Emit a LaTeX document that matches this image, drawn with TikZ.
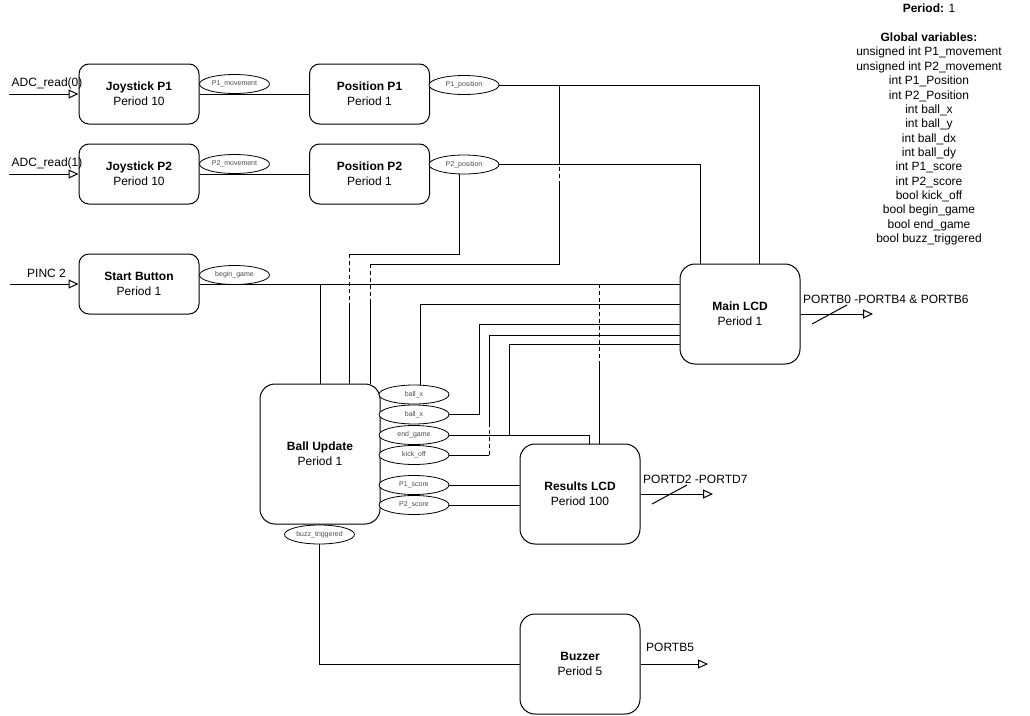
\documentclass[tikz,border=0pt]{standalone}
\usepackage{fontspec}
\setmainfont{Liberation Sans}
\usetikzlibrary{arrows.meta,shapes.geometric}
\begin{document}
\begin{tikzpicture}[x=1pt,y=-1pt,
  font=\fontsize{12}{15}\selectfont,
  task/.style={draw,line width=1pt,rounded corners=10pt,minimum width=120pt,minimum height=60pt,inner sep=0pt,align=center,fill=white},
  tall/.style={rounded corners=15pt,minimum height=100pt},
  var/.style={draw,ellipse,fill=white,line width=0.8pt,minimum width=70pt,minimum height=19pt,inner sep=0pt,font=\fontsize{7}{8}\selectfont,text=black!70},
  wire/.style={line width=1pt},
  jump/.style={line width=1pt,dash pattern=on 4pt off 3pt},
  inarr/.style={line width=1pt,-{Triangle[open,length=10pt,width=9pt,line width=1pt]}},
  lbl/.style={inner sep=0pt}
]
\useasboundingbox (0,0) rectangle (1030,715);

% task boxes
\node[task] (js1) at (139,94) {\textbf{Joystick P1}\\Period 10};
\node[task] (pos1) at (369.5,94) {\textbf{Position P1}\\Period 1};
\node[task] (js2) at (139,174) {\textbf{Joystick P2}\\Period 10};
\node[task] (pos2) at (369.5,174) {\textbf{Position P2}\\Period 1};
\node[task] (sb) at (139,284) {\textbf{Start Button}\\Period 1};
\node[task,tall] (mainlcd) at (740,314) {\textbf{Main LCD}\\Period 1};
\node[task,tall,minimum height=140pt] (ball) at (320,454) {\textbf{Ball Update}\\Period 1};
\node[task,tall] (results) at (580,494) {\textbf{Results LCD}\\Period 100};
\node[task,tall] (buzzer) at (580,664) {\textbf{Buzzer}\\Period 5};

% variable ellipses
\node[var] (e_p1mov) at (234.5,84) {P1\_movement};
\node[var] (e_p2mov) at (234.5,164) {P2\_movement};
\node[var] (e_p1pos) at (464,85) {P1\_position};
\node[var] (e_p2pos) at (464,164.5) {P2\_position};
\node[var] (e_begin) at (234.5,275) {begin\_game};
\node[var] (e_bx1) at (414,394.5) {ball\_x};
\node[var] (e_bx2) at (414,414.5) {ball\_x};
\node[var] (e_end) at (414,435) {end\_game};
\node[var] (e_kick) at (414,455) {kick\_off};
\node[var] (e_p1s) at (414,485) {P1\_score};
\node[var] (e_p2s) at (414,505) {P2\_score};
\node[var] (e_buzz) at (319.5,534.5) {buzz\_triggered};

% inputs
\coordinate (src0) at (9,94);
\coordinate (src1) at (9,174);
\coordinate (src2) at (10,284);
\draw[inarr] (src0) -- (js1.west);
\draw[inarr] (src1) -- (js2.west);
\draw[inarr] (src2) -- (sb.west);
\node[lbl,anchor=west] (l_adc0) at (11.5,83) {ADC\_read(0)};
\node[lbl,anchor=west] (l_adc1) at (11.5,163) {ADC\_read(1)};
\node[lbl,anchor=west] (l_pinc) at (27,273) {PINC 2};

% outputs
\coordinate (o_main) at (873,314);
\coordinate (o_res) at (713,494);
\coordinate (o_buz) at (708,664);
\draw[inarr] (mainlcd.east) -- (o_main);
\draw[inarr] (results.east) -- (o_res);
\draw[inarr] (buzzer.east) -- (o_buz);
\draw[wire] (812,324) -- (847,305);
\draw[wire] (652,504) -- (687,485);
\node[lbl,anchor=west] (l_main) at (803,299) {PORTB0 -PORTB4 \& PORTB6};
\node[lbl,anchor=west] (l_res) at (643,479) {PORTD2 -PORTD7};
\node[lbl,anchor=west] (l_buz) at (646,647) {PORTB5};

% wires
\draw[wire] (js1.east) -- (pos1.west);
\draw[wire] (js2.east) -- (pos2.west);
\draw[wire] (sb.east) -- (mainlcd.west |- sb.east);
\draw[wire] (ball.north |- sb.east) -- (ball.north);
\draw[jump] (599,284) -- (599,363);
\draw[wire] (599,363) -- (results.north -| 599,0);

\draw[wire] (e_p1pos.east) -| (mainlcd.north -| 759,0);
\draw[wire] (559,85) -- (559,160);
\draw[jump] (559,160) -- (559,183);
\draw[wire] (559,183) -- (559,264) -- (370,264);
\draw[jump] (370,264) -- (370,303);
\draw[wire] (370,303) -- (ball.north -| 370,0);

\draw[wire] (e_p2pos.east) -| (mainlcd.north -| 700,0);
\draw[wire] (e_p2pos.south -| 459,0) -- (459,254) -- (349,254);
\draw[jump] (349,254) -- (349,303);
\draw[wire] (349,303) -- (ball.north -| 349,0);

\draw[wire] (e_bx1.north -| 420,0) -- (420,304) -- (mainlcd.west |- 0,304);
\draw[wire] (e_bx2.east) -- (479,414.5) -- (479,324) -- (mainlcd.west |- 0,324);
\draw[wire] (e_kick.east) -- (489,455);
\draw[jump] (489,455) -- (489,424);
\draw[wire] (489,424) -- (489,335) -- (mainlcd.west |- 0,335);
\draw[wire] (e_end.east) -| (results.north -| 589,0);
\draw[wire] (509,435) -- (509,344) -- (mainlcd.west |- 0,344);
\draw[wire] (e_p1s.east) -- (results.west |- e_p1s.east);
\draw[wire] (e_p2s.east) -- (results.west |- e_p2s.east);
\draw[wire] (e_buzz.south) |- (buzzer.west);

% global variables
\node[lbl,align=center,anchor=north,font=\fontsize{12}{14.36}\selectfont] (globals) at (929,4)
{\textbf{Period:} 1\\[14.36pt]\textbf{Global variables:}\\
unsigned int P1\_movement\\unsigned int P2\_movement\\int P1\_Position\\int P2\_Position\\
int ball\_x\\int ball\_y\\int ball\_dx\\int ball\_dy\\int P1\_score\\int P2\_score\\
bool kick\_off\\bool begin\_game\\bool end\_game\\bool buzz\_triggered};
\end{tikzpicture}
\end{document}
